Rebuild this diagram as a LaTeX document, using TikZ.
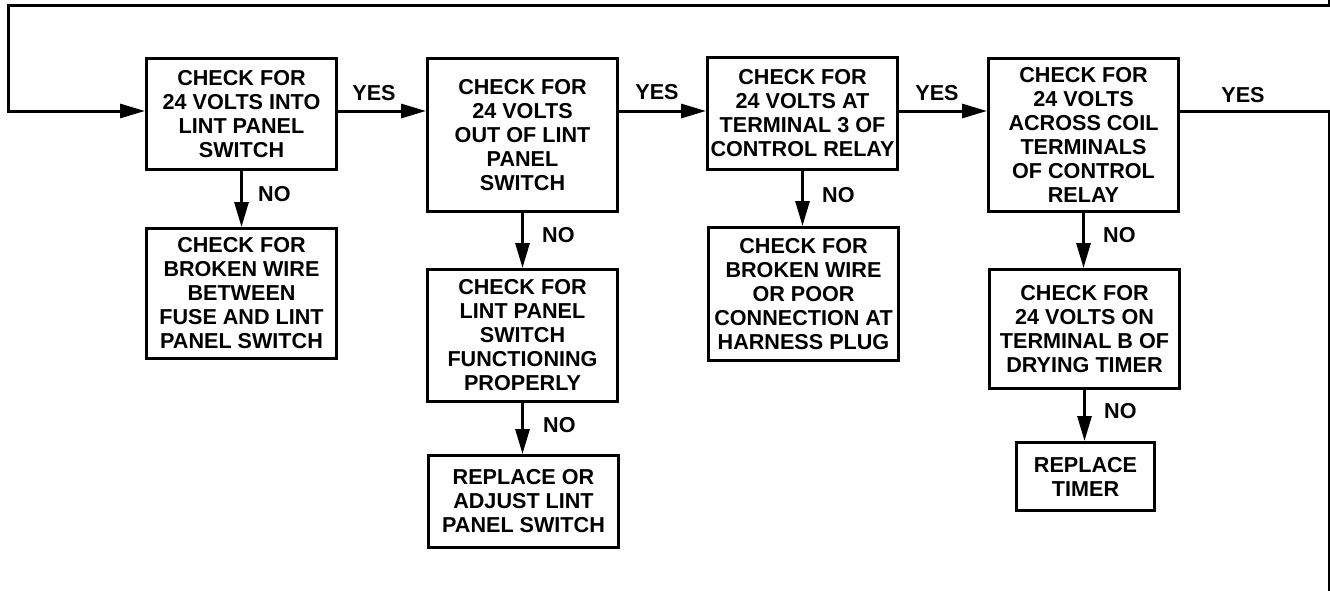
\documentclass[tikz,border=0pt]{standalone}
\usepackage{fontspec}
\setmainfont{Liberation Sans}
\usetikzlibrary{arrows.meta}
\begin{document}
\begin{tikzpicture}[x=1pt,y=-1pt,
  box/.style={draw,line width=3pt,inner sep=0pt,align=center,
    font=\bfseries\fontsize{21.6}{24}\selectfont},
  lbl/.style={inner sep=0pt,font=\bfseries\fontsize{21.6}{24}\selectfont},
  wire/.style={line width=3pt},
  arr/.style={line width=3pt,-{Triangle[length=25pt,width=14pt]}}]
\useasboundingbox (0,0) rectangle (1330,590);
\clip (0,0) rectangle (1330,590);
\fill[white] (0,0) rectangle (1330,590);
% main boxes
\node[box,minimum width=190pt,minimum height=111pt] (b1) at (241.5,114) {CHECK FOR\\24 VOLTS INTO\\LINT PANEL\\SWITCH};
\node[box,minimum width=190pt,minimum height=153pt] (b2) at (522.5,135) {CHECK FOR\\24 VOLTS\\OUT OF LINT\\PANEL\\SWITCH};
\node[box,minimum width=190pt,minimum height=112pt] (b3) at (802.5,113.5) {CHECK FOR\\24 VOLTS AT\\TERMINAL 3 OF\\CONTROL RELAY};
\node[box,minimum width=190pt,minimum height=153pt] (b4) at (1083.5,135) {CHECK FOR\\24 VOLTS\\ACROSS COIL\\TERMINALS\\OF CONTROL\\RELAY};
% NO boxes
\node[box,minimum width=190pt,minimum height=130pt] (b1n) at (241.5,293.5) {CHECK FOR\\BROKEN WIRE\\BETWEEN\\FUSE AND LINT\\PANEL SWITCH};
\node[box,minimum width=190pt,minimum height=132pt] (b2n) at (522.5,335.5) {CHECK FOR\\LINT PANEL\\SWITCH\\FUNCTIONING\\PROPERLY};
\node[box,minimum width=190pt,minimum height=92pt] (b2nn) at (523.5,501.5) {REPLACE OR\\ADJUST LINT\\PANEL SWITCH};
\node[box,minimum width=190pt,minimum height=133pt] (b3n) at (803.5,294) {CHECK FOR\\BROKEN WIRE\\OR POOR\\CONNECTION AT\\HARNESS PLUG};
\node[box,minimum width=190pt,minimum height=119pt] (b4n) at (1084.5,329) {CHECK FOR\\24 VOLTS ON\\TERMINAL B OF\\DRYING TIMER};
\node[box,minimum width=138pt,minimum height=68pt] (b4nn) at (1085.5,476.5) {REPLACE\\TIMER};
% loop coordinates
\coordinate (row) at (0,111);
\coordinate (tl) at (8,5);
\coordinate (tr) at (1329,5);
\coordinate (trup) at (1329,-10);
\coordinate (rr) at (1329,111);
\coordinate (rdown) at (1329,600);
% loop
\draw[arr] (trup) -- (tr) -- (tl) -- (tl |- row) -- (b1.west |- row);
\draw[wire] (b4.east |- row) -- (rr) -- (rdown);
% yes arrows
\draw[arr] (b1.east |- row) -- (b2.west |- row);
\draw[arr] (b2.east |- row) -- (b3.west |- row);
\draw[arr] (b3.east |- row) -- (b4.west |- row);
% no arrows
\draw[arr] (b1.south) -- (b1.south |- b1n.north);
\draw[arr] (b2.south) -- (b2.south |- b2n.north);
\draw[arr] (b2n.south) -- (b2n.south |- b2nn.north);
\draw[arr] (b3.south) -- (b3.south |- b3n.north);
\draw[arr] (b4.south) -- (b4.south |- b4n.north);
\draw[arr] (b4n.south) -- (b4n.south |- b4nn.north);
% labels
\node[lbl] (y1) at (374,93) {YES};
\node[lbl] (y2) at (657,92) {YES};
\node[lbl] (y3) at (937,93) {YES};
\node[lbl] (y4) at (1243,95) {YES};
\node[lbl,anchor=west] (n1) at (258,194) {NO};
\node[lbl,anchor=west] (n2) at (542,235) {NO};
\node[lbl,anchor=west] (n3) at (543,425) {NO};
\node[lbl,anchor=west] (n4) at (822,195) {NO};
\node[lbl,anchor=west] (n5) at (1103,235) {NO};
\node[lbl,anchor=west] (n6) at (1104,411) {NO};
\end{tikzpicture}
\end{document}
